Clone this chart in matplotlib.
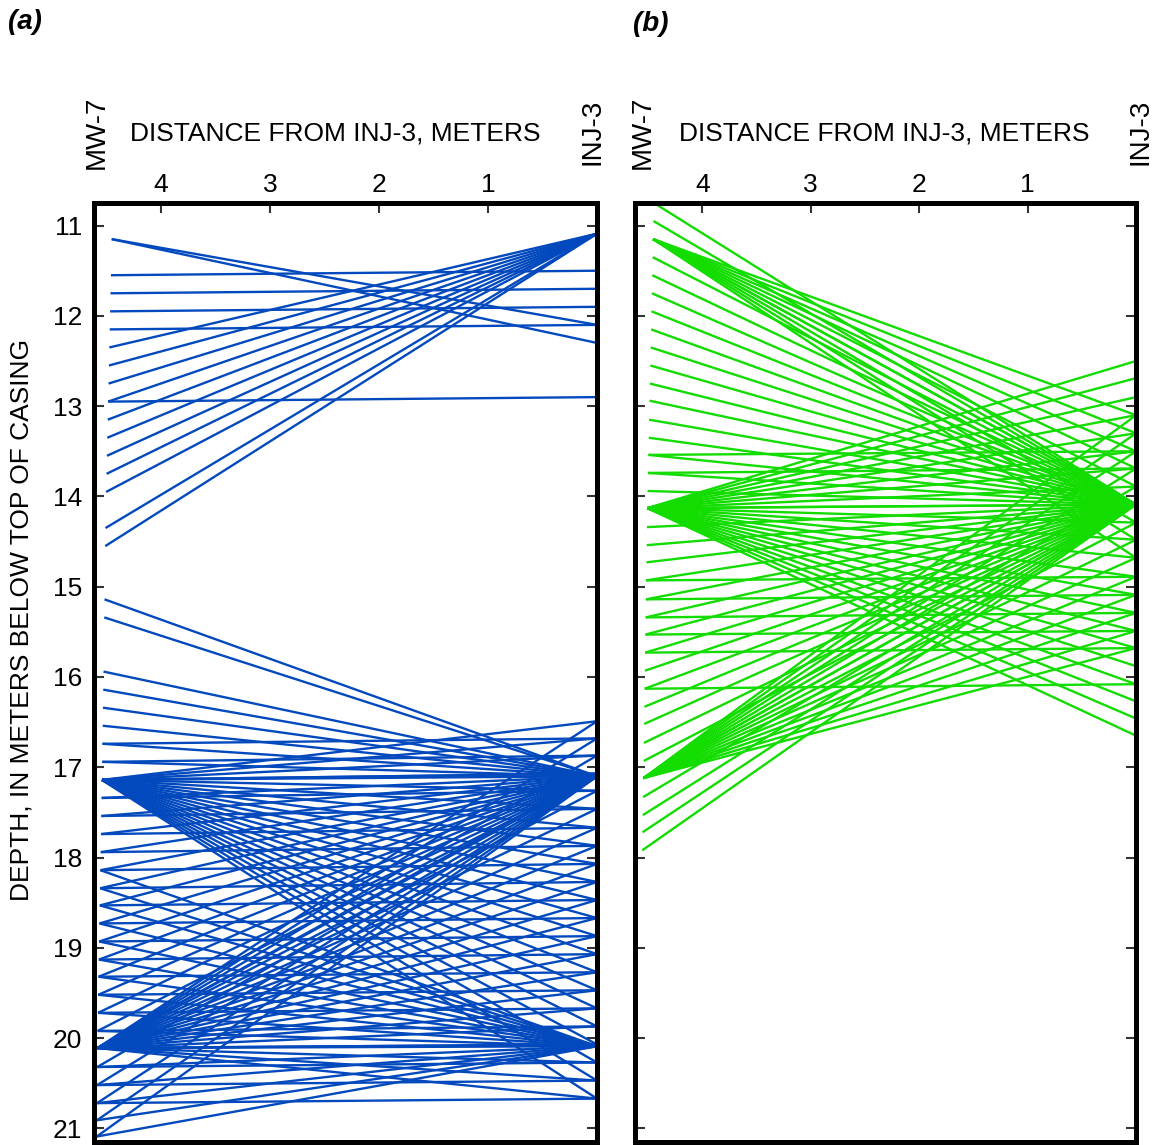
import numpy as np
import matplotlib
matplotlib.use('Agg')
import matplotlib.pyplot as plt

plt.rcParams['font.family'] = ['Liberation Sans', 'DejaVu Sans']

# ---------------- data ----------------
# MW-7 borehole trajectory: horizontal distance from INJ-3 (m) versus depth (m)
well_depth = [10.75, 11.15, 14.13, 17.13, 20.10, 21.10]
well_dist = [4.445, 4.453, 4.507, 4.542, 4.584, 4.590]

# ---- panel (a) ----
# upper section
a_inj_src_up = 11.09
a_mw_rx_up = [12.35, 12.55, 12.75, 12.95, 13.15, 13.35, 13.55, 13.75, 13.95, 14.35, 14.55]
a_mw_src_up = 11.15
a_inj_rx_up = [12.10, 12.30]
a_zop_mw_up = [11.55, 11.75, 11.95, 12.15, 12.95]
a_zop_inj_up = [11.50, 11.70, 11.90, 12.10, 12.90]

# lower section
a_mw_rx_low = [15.14, 15.34, 15.94, 16.14, 16.34, 16.54, 16.74, 16.94, 17.14, 17.34,
               17.54, 17.74, 17.94, 18.14, 18.34, 18.53, 18.73, 18.93, 19.13, 19.32,
               19.52, 19.72, 19.92, 20.11, 20.32, 20.52, 20.72, 20.91, 21.09]
a_inj_rx_low = [16.49, 16.68, 16.87, 17.07, 17.26, 17.46, 17.67, 17.87, 18.07, 18.27,
                18.47, 18.67, 18.87, 19.07, 19.27, 19.47, 19.67, 19.87, 20.07, 20.27,
                20.47, 20.67]
a_inj_src_low = [17.10, 20.09]
a_inj_src_rx = [a_mw_rx_low, [d for d in a_mw_rx_low if d >= 18.1]]
a_mw_src_low = [17.14, 20.11]
a_zop_mw_low = a_mw_rx_low[6:27]
a_zop_inj_low = a_inj_rx_low[1:22]

# ---- panel (b) ----
b_mw_rx = [10.75, 10.95, 11.15, 11.35, 11.55, 11.75, 11.95, 12.15, 12.35, 12.55,
           12.75, 12.94, 13.15, 13.35, 13.54, 13.74, 13.94, 14.13, 14.34, 14.54,
           14.73, 14.93, 15.14, 15.34, 15.53, 15.73, 15.93, 16.13, 16.33, 16.52,
           16.73, 16.93, 17.12, 17.33, 17.53, 17.72, 17.92]
b_inj_rx = [12.50, 12.69, 12.90, 13.10, 13.30, 13.50, 13.69, 13.89, 14.09, 14.29,
            14.48, 14.68, 14.89, 15.09, 15.29, 15.49, 15.68, 15.88, 16.08, 16.27,
            16.46, 16.65]
b_inj_src = 14.09
b_mw_src = [11.15, 14.13, 17.12]
b_mw_src_rx = [[d for d in b_inj_rx if 13.0 <= d <= 14.7],
               b_inj_rx,
               [d for d in b_inj_rx if 13.0 <= d <= 15.7]]
b_zop_mw = [13.54, 13.74, 14.93, 15.14, 15.34, 15.53, 15.73, 16.13]
b_zop_inj = [13.50, 13.69, 14.89, 15.09, 15.29, 15.49, 15.68, 16.08]

x_ticks = [4, 3, 2, 1]
y_ticks = list(range(11, 22))

BLUE = '#0349BE'
GREEN = '#12DC00'
LW = 1.7

# ---------------- figure ----------------
W, H = 1159, 1145
fig = plt.figure(figsize=(W / 100, H / 100), dpi=100)


def ax_rect(x0, x1, y0, y1):
    return [x0 / W, 1 - y1 / H, (x1 - x0) / W, (y1 - y0) / H]


ax_a = fig.add_axes(ax_rect(93.5, 597, 203, 1141.5))
ax_b = fig.add_axes(ax_rect(635, 1136, 203, 1141.5))


def mw_x(d):
    return float(np.interp(d, well_depth, well_dist))


def ray(ax, d_mw, d_inj, color):
    ax.plot([mw_x(d_mw), 0.0], [d_mw, d_inj], color=color, lw=LW,
            solid_capstyle='butt', zorder=2)


# panel a rays
for d in a_mw_rx_up:
    ray(ax_a, d, a_inj_src_up, BLUE)
for d in a_inj_rx_up:
    ray(ax_a, a_mw_src_up, d, BLUE)
for m, i in zip(a_zop_mw_up, a_zop_inj_up):
    ray(ax_a, m, i, BLUE)
for src, rxs in zip(a_inj_src_low, a_inj_src_rx):
    for d in rxs:
        ray(ax_a, d, src, BLUE)
for src in a_mw_src_low:
    for d in a_inj_rx_low:
        ray(ax_a, src, d, BLUE)
for m, i in zip(a_zop_mw_low, a_zop_inj_low):
    ray(ax_a, m, i, BLUE)

# panel b rays
for d in b_mw_rx:
    ray(ax_b, d, b_inj_src, GREEN)
for src, rxs in zip(b_mw_src, b_mw_src_rx):
    for d in rxs:
        ray(ax_b, src, d, GREEN)
for m, i in zip(b_zop_mw, b_zop_inj):
    ray(ax_b, m, i, GREEN)

for ax in (ax_a, ax_b):
    ax.set_xlim(4.62, 0.0)
    ax.set_ylim(21.145, 10.75)
    ax.xaxis.tick_top()
    ax.set_xticks(x_ticks)
    ax.set_xticklabels([str(t) for t in x_ticks])
    ax.set_yticks(y_ticks)
    ax.tick_params(axis='x', top=True, bottom=False, direction='in', length=7,
                   width=1.5, color='#333333', labelsize=19, pad=4)
    ax.tick_params(axis='y', left=True, right=True, direction='in', length=7,
                   width=1.5, color='#333333', labelsize=19, pad=8)
    for s in ax.spines.values():
        s.set_linewidth(3.6)
        s.set_color('black')
        s.set_zorder(5)

ax_a.set_yticklabels([str(t) for t in y_ticks])
ax_b.set_yticklabels([])

# text
FS = 19
fig.text(25 / W, 1 - 22 / H, '(a)', fontsize=20, fontweight='bold', fontstyle='italic',
         ha='center', va='center')
fig.text(651 / W, 1 - 24 / H, '(b)', fontsize=20, fontweight='bold', fontstyle='italic',
         ha='center', va='center')
for cx in (335, 884):
    fig.text(cx / W, 1 - 133 / H, 'DISTANCE FROM INJ-3, METERS', fontsize=FS,
             ha='center', va='center')
for cx in (97, 643):
    fig.text(cx / W, 1 - 132 / H, 'MW-7', fontsize=FS + 1, rotation=90,
             ha='center', va='center')
for cx in (592, 1140):
    fig.text(cx / W, 1 - 132 / H, 'INJ-3', fontsize=FS + 1, rotation=90,
             ha='center', va='center')
fig.text(22 / W, 1 - 620 / H, 'DEPTH, IN METERS BELOW TOP OF CASING', fontsize=FS,
         rotation=90, ha='center', va='center')

fig.savefig('out.png', dpi=100)
